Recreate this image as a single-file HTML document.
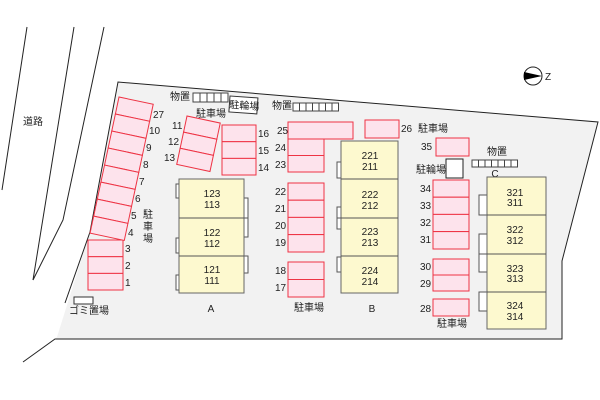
<!DOCTYPE html>
<html><head><meta charset="utf-8"><style>
html,body{margin:0;padding:0;background:#fff;}
svg{display:block;}
text{font-family:"Liberation Sans","Noto Sans CJK JP",sans-serif;font-size:10px;fill:#222;}
.p{fill:#fde3ec;stroke:#ee3344;stroke-width:1;}
.b{fill:#fdf9cf;stroke:#666;stroke-width:1;}
.t{fill:#fff;stroke:#555;stroke-width:1;}
.c{text-anchor:middle;}
</style></head><body>
<svg width="600" height="400" viewBox="0 0 600 400" xmlns="http://www.w3.org/2000/svg">
<!-- site -->
<polygon points="118,82 598,122 562,261 562,339 55,339 57,337 90,232" fill="#f2f2f2"/>
<polyline points="90,232 118,82 598,122 562,261 562,339 55,339 23,362" fill="none" stroke="#222" stroke-width="1"/>
<line x1="90" y1="232" x2="65" y2="303" stroke="#222"/>
<!-- road -->
<line x1="27" y1="27" x2="2" y2="190" stroke="#222"/>
<line x1="74" y1="27" x2="33" y2="280" stroke="#222"/>
<polyline points="104,27 63,220 33,280" fill="none" stroke="#222"/>
<text x="23" y="125">道路</text>

<!-- compass -->
<circle cx="533" cy="76" r="9" fill="#fff" stroke="#222"/>
<polygon points="524,72 542,76 524,80" fill="#000"/>
<text x="545" y="80" font-size="9">Z</text>

<!-- parking 1-3 -->
<rect class="p" x="88" y="240" width="35" height="16.7"/>
<rect class="p" x="88" y="256.7" width="35" height="16.7"/>
<rect class="p" x="88" y="273.4" width="35" height="16.6"/>
<text x="125" y="252">3</text><text x="125" y="269">2</text><text x="125" y="286">1</text>

<!-- slanted 4..27 -->
<g transform="translate(119,97) rotate(12)">
<rect class="p" x="0" y="0" width="35" height="17.4"/>
<rect class="p" x="0" y="17.4" width="35" height="17.4"/>
<rect class="p" x="0" y="34.8" width="35" height="17.4"/>
<rect class="p" x="0" y="52.2" width="35" height="17.4"/>
<rect class="p" x="0" y="69.6" width="35" height="17.4"/>
<rect class="p" x="0" y="87" width="35" height="17.4"/>
<rect class="p" x="0" y="104.4" width="35" height="17.4"/>
<rect class="p" x="0" y="121.8" width="35" height="17.4"/>
</g>
<text x="153" y="118">27</text><text x="149" y="134">10</text><text x="146" y="151">9</text>
<text x="143" y="168">8</text><text x="139" y="185">7</text><text x="135" y="202">6</text>
<text x="131" y="219">5</text><text x="128" y="236">4</text>
<text x="143" y="218">駐</text><text x="143" y="230">車</text><text x="143" y="242">場</text>

<!-- 11-13 -->
<g transform="translate(187,116) rotate(12)">
<rect class="p" x="0" y="0" width="34" height="16.5"/>
<rect class="p" x="0" y="16.5" width="34" height="16.5"/>
<rect class="p" x="0" y="33" width="34" height="16.5"/>
</g>
<text x="172" y="129">11</text><text x="168" y="145">12</text><text x="164" y="161">13</text>
<!-- 14-16 -->
<rect class="p" x="222" y="125" width="34" height="16.7"/>
<rect class="p" x="222" y="141.7" width="34" height="16.7"/>
<rect class="p" x="222" y="158.4" width="34" height="16.6"/>
<text x="258" y="137">16</text><text x="258" y="154">15</text><text x="258" y="171">14</text>

<!-- top storages -->
<text x="170" y="100">物置</text>
<g fill="#fff" stroke="#444">
<rect x="193" y="93" width="7" height="9"/><rect x="200" y="93" width="7" height="9"/><rect x="207" y="93" width="7" height="9"/><rect x="214" y="93" width="7" height="9"/><rect x="221" y="93" width="7" height="9"/>
</g>
<g transform="translate(230,96) rotate(4)"><rect x="0" y="0" width="28" height="16" fill="#fff" stroke="#333"/><text x="0" y="12">駐輪場</text></g>
<text x="196" y="117">駐車場</text>
<text x="272" y="109">物置</text>
<g fill="#fff" stroke="#444">
<rect x="293" y="103" width="6.5" height="8"/><rect x="299.5" y="103" width="6.5" height="8"/><rect x="306" y="103" width="6.5" height="8"/><rect x="312.5" y="103" width="6.5" height="8"/><rect x="319" y="103" width="6.5" height="8"/><rect x="325.5" y="103" width="6.5" height="8"/><rect x="332" y="103" width="6.5" height="8"/>
</g>

<!-- building A -->
<rect class="t" x="176" y="184" width="8" height="14"/><rect class="t" x="176" y="238" width="8" height="15"/><rect class="t" x="176" y="275" width="8" height="15"/>
<rect class="t" x="241" y="198" width="7" height="39"/><rect class="t" x="241" y="256" width="7" height="17"/>
<rect class="b" x="179" y="179" width="65" height="114"/>
<line x1="179" y1="218" x2="244" y2="218" stroke="#555"/><line x1="179" y1="256" x2="244" y2="256" stroke="#555"/>
<line x1="241" y1="218" x2="248" y2="218" stroke="#555"/>
<text class="c" x="212" y="197">123</text><text class="c" x="212" y="208">113</text>
<text class="c" x="212" y="236">122</text><text class="c" x="212" y="247">112</text>
<text class="c" x="212" y="273">121</text><text class="c" x="212" y="284">111</text>
<text class="c" x="211" y="312">A</text>
<rect x="74" y="297" width="19" height="7" fill="#fff" stroke="#333"/>
<text x="69" y="314">ゴミ置場</text>

<!-- B parking -->
<rect class="p" x="288" y="122" width="65" height="17"/>
<rect class="p" x="365" y="120" width="34" height="18"/>
<text x="277" y="134">25</text><text x="401" y="132">26</text><text x="418" y="132">駐車場</text>
<rect class="p" x="288" y="139" width="36" height="16.5"/><rect class="p" x="288" y="155.5" width="36" height="16.5"/>
<text x="275" y="151">24</text><text x="275" y="168">23</text>
<rect class="p" x="288" y="183" width="36" height="17.2"/><rect class="p" x="288" y="200.2" width="36" height="17.2"/><rect class="p" x="288" y="217.4" width="36" height="17.2"/><rect class="p" x="288" y="234.6" width="36" height="17.4"/>
<text x="275" y="195">22</text><text x="275" y="212">21</text><text x="275" y="229">20</text><text x="275" y="246">19</text>
<rect class="p" x="288" y="262" width="36" height="17.5"/><rect class="p" x="288" y="279.5" width="36" height="17.5"/>
<text x="275" y="274">18</text><text x="275" y="291">17</text>
<text x="294" y="311">駐車場</text>

<!-- building B -->
<rect class="t" x="337" y="162" width="5" height="16"/><rect class="t" x="337" y="207" width="5" height="22"/><rect class="t" x="337" y="257" width="5" height="15"/>
<rect class="b" x="341" y="141" width="57" height="152"/>
<line x1="341" y1="179" x2="398" y2="179" stroke="#555"/><line x1="341" y1="218" x2="398" y2="218" stroke="#555"/><line x1="341" y1="256" x2="398" y2="256" stroke="#555"/>
<line x1="337" y1="218" x2="341" y2="218" stroke="#555"/>
<text class="c" x="370" y="159">221</text><text class="c" x="370" y="170">211</text>
<text class="c" x="370" y="198">222</text><text class="c" x="370" y="209">212</text>
<text class="c" x="370" y="235">223</text><text class="c" x="370" y="246">213</text>
<text class="c" x="370" y="274">224</text><text class="c" x="370" y="285">214</text>
<text class="c" x="372" y="312">B</text>

<!-- C parking -->
<rect class="p" x="436" y="138" width="33" height="18"/><text x="421" y="150">35</text>
<rect x="446" y="159" width="17" height="19" fill="#fff" stroke="#222"/><text x="416" y="173">駐輪場</text>
<rect class="p" x="433" y="180" width="36" height="17.2"/><rect class="p" x="433" y="197.2" width="36" height="17.2"/><rect class="p" x="433" y="214.4" width="36" height="17.2"/><rect class="p" x="433" y="231.6" width="36" height="17.4"/>
<text x="420" y="192">34</text><text x="420" y="209">33</text><text x="420" y="226">32</text><text x="420" y="243">31</text>
<rect class="p" x="433" y="259" width="36" height="16"/><rect class="p" x="433" y="275" width="36" height="16"/>
<text x="420" y="270">30</text><text x="420" y="287">29</text>
<rect class="p" x="433" y="299" width="36" height="17"/><text x="420" y="312">28</text>
<text x="437" y="327">駐車場</text>

<text x="487" y="155">物置</text>
<g fill="#fff" stroke="#444">
<rect x="472" y="160" width="6.5" height="7"/><rect x="478.5" y="160" width="6.5" height="7"/><rect x="485" y="160" width="6.5" height="7"/><rect x="491.5" y="160" width="6.5" height="7"/><rect x="498" y="160" width="6.5" height="7"/><rect x="504.5" y="160" width="6.5" height="7"/><rect x="511" y="160" width="6.5" height="7"/>
</g>
<text class="c" x="495" y="177">C</text>

<!-- building C -->
<rect class="t" x="479" y="195" width="8" height="20"/><rect class="t" x="479" y="234" width="8" height="38"/><rect class="t" x="479" y="292" width="8" height="19"/>
<rect class="b" x="487" y="177" width="59" height="152"/>
<line x1="487" y1="215" x2="546" y2="215" stroke="#555"/><line x1="487" y1="254" x2="546" y2="254" stroke="#555"/><line x1="487" y1="292" x2="546" y2="292" stroke="#555"/>
<line x1="479" y1="254" x2="487" y2="254" stroke="#555"/>
<text class="c" x="515" y="196">321</text><text class="c" x="515" y="206">311</text>
<text class="c" x="515" y="233">322</text><text class="c" x="515" y="244">312</text>
<text class="c" x="515" y="272">323</text><text class="c" x="515" y="282">313</text>
<text class="c" x="515" y="309">324</text><text class="c" x="515" y="320">314</text>
</svg>
</body></html>
